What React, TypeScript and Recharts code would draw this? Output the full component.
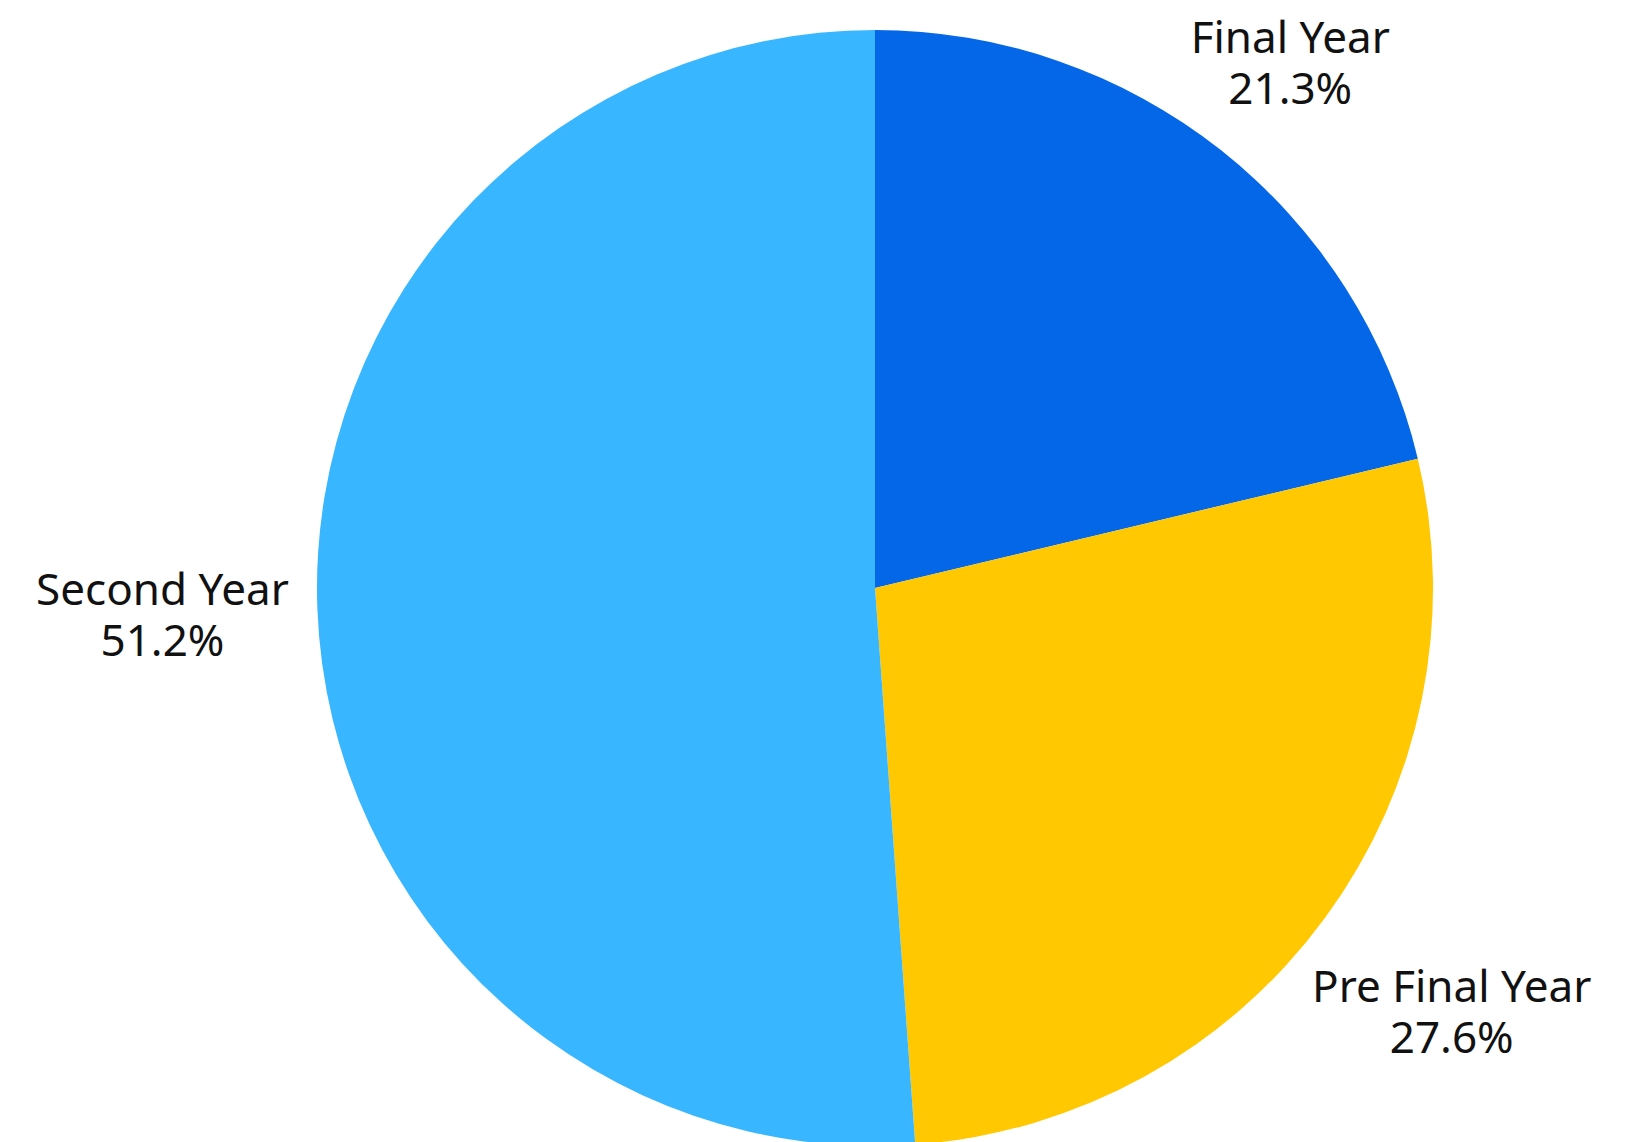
import { PieChart, Pie, Cell } from "recharts";

const categories = ["Final Year", "Pre Final Year", "Second Year"];
const shares = [21.3, 27.6, 51.2];
const colors = ["#0367E8", "#FFC800", "#38B6FF"];

// distance of each label block centre from the pie centre
const LABEL_RADIUS: Record<string, number> = {
  "Final Year": 670,
  "Pre Final Year": 715,
  "Second Year": 713,
};

const data = categories.map((name, i) => ({ name, value: shares[i] }));

const RADIAN = Math.PI / 180;

function renderLabel(props: any) {
  const { cx, cy, midAngle, name, value } = props;
  const r = LABEL_RADIUS[name] ?? 700;
  const x = cx + r * Math.cos(-midAngle * RADIAN);
  const y = cy + r * Math.sin(-midAngle * RADIAN);
  return (
    <text
      x={x}
      y={y}
      textAnchor="middle"
      fill="#111"
      fontSize={44}
      fontFamily="'Noto Sans', sans-serif"
    >
      <tspan x={x} y={y - 9}>
        {name}
      </tspan>
      <tspan x={x} y={y + 42}>
        {`${value.toFixed(1)}%`}
      </tspan>
    </text>
  );
}

export default function App() {
  return (
    <div style={{ position: "absolute", left: 0, top: 0, background: "#fff" }}>
      <PieChart
        width={1633}
        height={1142}
        margin={{ top: 0, right: 0, bottom: 0, left: 0 }}
      >
        <Pie
          data={data}
          dataKey="value"
          nameKey="name"
          cx={875}
          cy={588}
          outerRadius={558}
          startAngle={90}
          endAngle={-270}
          stroke="none"
          label={renderLabel}
          labelLine={false}
          isAnimationActive={false}
        >
          {data.map((d, i) => (
            <Cell key={d.name} fill={colors[i]} />
          ))}
        </Pie>
      </PieChart>
    </div>
  );
}
